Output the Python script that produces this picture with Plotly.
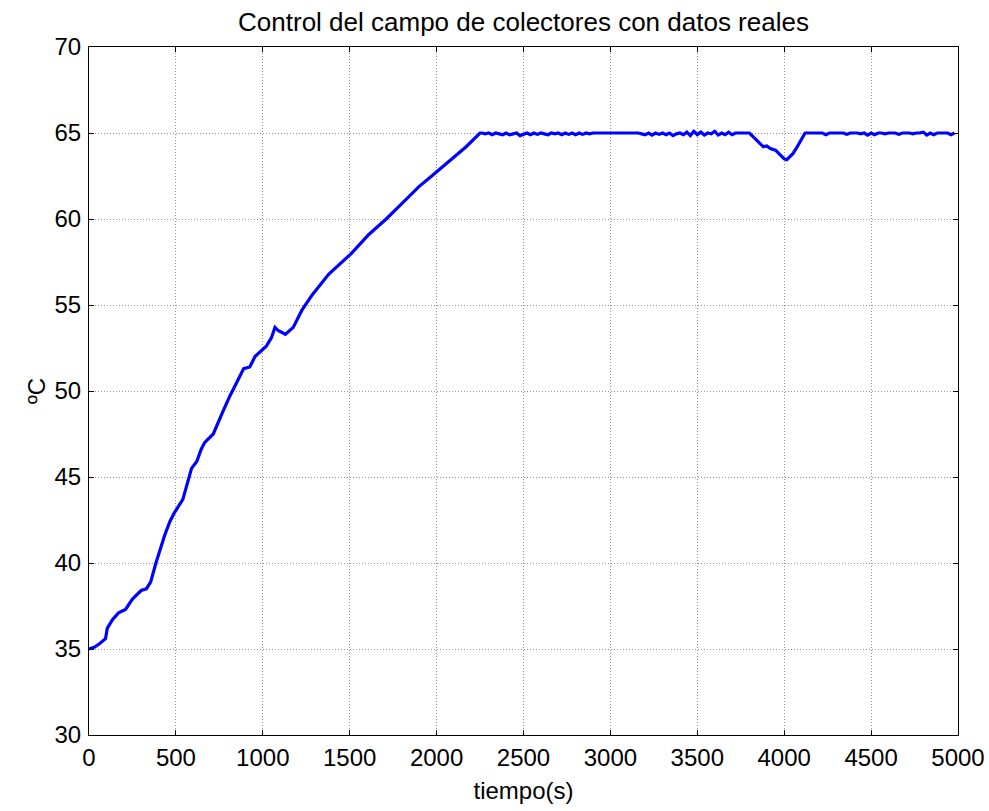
import plotly.graph_objects as go

# Heating ramp of the collector field (time in s, temperature in ºC)
t_ramp = [0, 30, 60, 95, 105, 135, 170, 210, 250, 300, 330, 355, 385, 435, 465,
          490, 540, 590, 620, 645, 665, 715, 770, 810, 860, 890, 925, 955, 1020,
          1050, 1070, 1090, 1130, 1175, 1225, 1285, 1380, 1510, 1610, 1710, 1810,
          1900, 1960, 2030, 2095, 2170, 2250]
T_ramp = [35.0, 35.1, 35.3, 35.6, 36.2, 36.7, 37.1, 37.3, 37.9, 38.4, 38.5, 38.9,
          40.0, 41.6, 42.4, 42.9, 43.7, 45.5, 45.9, 46.6, 47.0, 47.5, 48.8, 49.7,
          50.7, 51.3, 51.4, 52.0, 52.6, 53.1, 53.7, 53.5, 53.3, 53.7, 54.7, 55.6,
          56.8, 58.0, 59.1, 60.0, 61.0, 61.9, 62.4, 63.0, 63.6, 64.2, 65.0]

# Regulated temperature around the 65 ºC set point, sampled every 20 s from 2260 s
T_hold1 = [65.0, 64.95, 65.0, 64.9, 65.0, 64.95, 64.9, 65.0, 64.9, 64.95,
           65.0, 64.85, 64.95, 65.0, 64.9, 65.0, 64.92, 65.0, 64.95, 64.9,
           65.0, 64.95, 65.0, 64.9, 65.0, 64.92, 65.0, 64.9, 65.0, 64.92,
           65.0, 64.95, 65.0, 65.0, 65.0, 65.0, 65.0, 65.0, 65.0, 65.0,
           65.0, 65.0, 65.0, 65.0, 65.0, 65.0, 64.95, 64.9, 65.0, 64.88,
           65.0, 64.92, 65.0, 64.9, 65.0, 64.85, 64.95, 65.0, 64.9, 65.05,
           64.85, 65.1, 64.9, 65.05, 64.88, 65.0, 64.95, 65.1, 64.88, 65.0,
           64.9, 65.05, 64.9, 65.0, 65.0, 64.98, 65.0]

# Temporary drop around 4000 s
t_drop = [3800, 3830, 3860, 3880, 3900, 3920, 3950, 3970, 4000, 4015, 4030,
          4050, 4075, 4100, 4120]
T_drop = [65.0, 64.7, 64.4, 64.2, 64.25, 64.1, 64.0, 63.8, 63.5, 63.45, 63.6,
          63.8, 64.2, 64.6, 65.0]

# Set point recovered, sampled every 20 s from 4140 s
T_hold2 = [65.0, 65.0, 65.0, 65.0, 65.0, 64.9, 65.0, 65.0, 65.0, 65.0,
           65.0, 64.92, 65.0, 65.0, 65.0, 64.95, 65.0, 64.88, 65.0, 64.9,
           65.0, 65.0, 64.95, 65.0, 65.0, 65.0, 64.92, 65.0, 65.0, 65.0,
           64.95, 65.0, 65.0, 65.05, 64.88, 65.0, 64.9, 65.0, 65.0, 65.0,
           65.0, 64.9, 65.0]

x_ticks = list(range(0, 5001, 500))
y_ticks = list(range(30, 71, 5))

t_hold1 = [2260 + 20 * i for i in range(len(T_hold1))]
t_hold2 = [4140 + 20 * i for i in range(len(T_hold2))]

t_all = t_ramp + t_hold1 + t_drop + t_hold2
T_all = T_ramp + T_hold1 + T_drop + T_hold2

FONT = "Liberation Sans, Arial, sans-serif"

fig = go.Figure()
fig.add_trace(go.Scatter(x=t_all, y=T_all, mode="lines",
                         line=dict(color="#0000FF", width=3.2),
                         showlegend=False))

axis_common = dict(
    showline=True, linecolor="black", linewidth=1, mirror="ticks",
    ticks="inside", ticklen=5, tickcolor="black", tickwidth=1,
    showgrid=True, gridcolor="rgba(0,0,0,0.42)", griddash="1px,2px", gridwidth=1,
    zeroline=False, automargin=False,
    tickfont=dict(family=FONT, size=24, color="black"),
)

fig.update_xaxes(range=[0, 5000], tickvals=x_ticks,
                 ticktext=[str(v) for v in x_ticks],
                 title=dict(text="tiempo(s)", font=dict(family=FONT, size=24, color="black"),
                            standoff=12),
                 ticklabelstandoff=1,
                 **axis_common)
fig.update_yaxes(range=[30, 70], tickvals=y_ticks,
                 ticktext=[str(v) for v in y_ticks],
                 title=dict(text="ºC", font=dict(family=FONT, size=24, color="black"),
                            standoff=2),
                 ticklabelstandoff=2,
                 **axis_common)

fig.update_layout(
    width=989, height=811,
    margin=dict(l=89, r=31, t=47, b=76),
    paper_bgcolor="white", plot_bgcolor="white",
    title=dict(text="Control del campo de colectores con datos reales",
               font=dict(family=FONT, size=26, color="black"),
               x=0.5, xref="paper", xanchor="center",
               y=1 - 22 / 811, yanchor="middle"),
)

fig.write_html("out.html")
